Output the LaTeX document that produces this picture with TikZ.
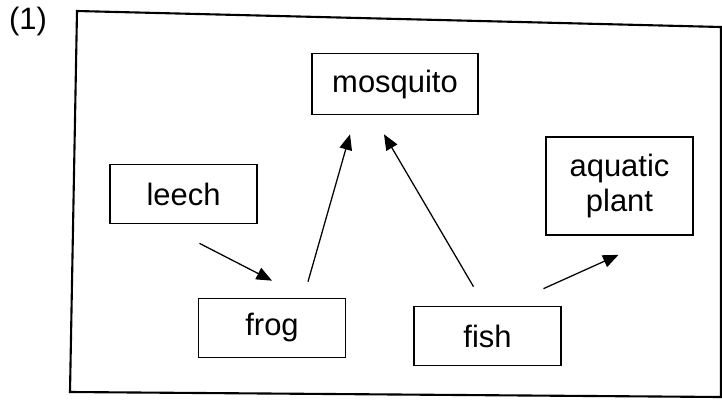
\documentclass[tikz,border=0pt]{standalone}
\usepackage{fontspec}
\setmainfont{Liberation Sans}
\usetikzlibrary{arrows.meta,calc}

\begin{document}
\begin{tikzpicture}[x=0.025cm,y=-0.025cm,
    font=\fontsize{22}{25}\selectfont,
    box/.style={draw,line width=1.2pt,minimum width=3.675cm,minimum height=1.475cm,inner sep=0pt,align=center},
    feeds/.style={line width=0.9pt,-{Triangle[length=11pt,width=9pt]}}]

    \useasboundingbox (0,0) rectangle (722,408);

    \def\outerframe{(77,11) -- (721,27) -- (721,397) -- (70,392) -- cycle}

    %label:
    \node (num) at (28,21) {(1)};

    %draw frame:
    \draw[line width=1.5pt] \outerframe;

    %organisms:
    \node[box,minimum width=4.15cm,minimum height=1.525cm] (mosquito) at (395,84) {mosquito};
    \node[box] (leech) at (183.5,194) {leech};
    \node[box] (frog) at (272,328) {frog};
    \node[box] (fish) at (487.5,336) {fish};
    \node[box,minimum height=2.45cm] (plant) at (619.5,186) {aquatic\\plant};

    %draw arrows:
    \draw[feeds] ($(leech.south)+(16,19)$) -- ($(frog.north)+(0,-17)$);
    \draw[feeds] ($(frog.north)+(36,-16)$) -- ($(mosquito.south)+(-45,19)$);
    \draw[feeds] ($(fish.north)+(-14,-19)$) -- ($(mosquito.south)+(-11,19)$);
    \draw[feeds] ($(fish.north)+(56,-17)$) -- ($(plant.south)+(-1,19)$);

\end{tikzpicture}
\end{document}
